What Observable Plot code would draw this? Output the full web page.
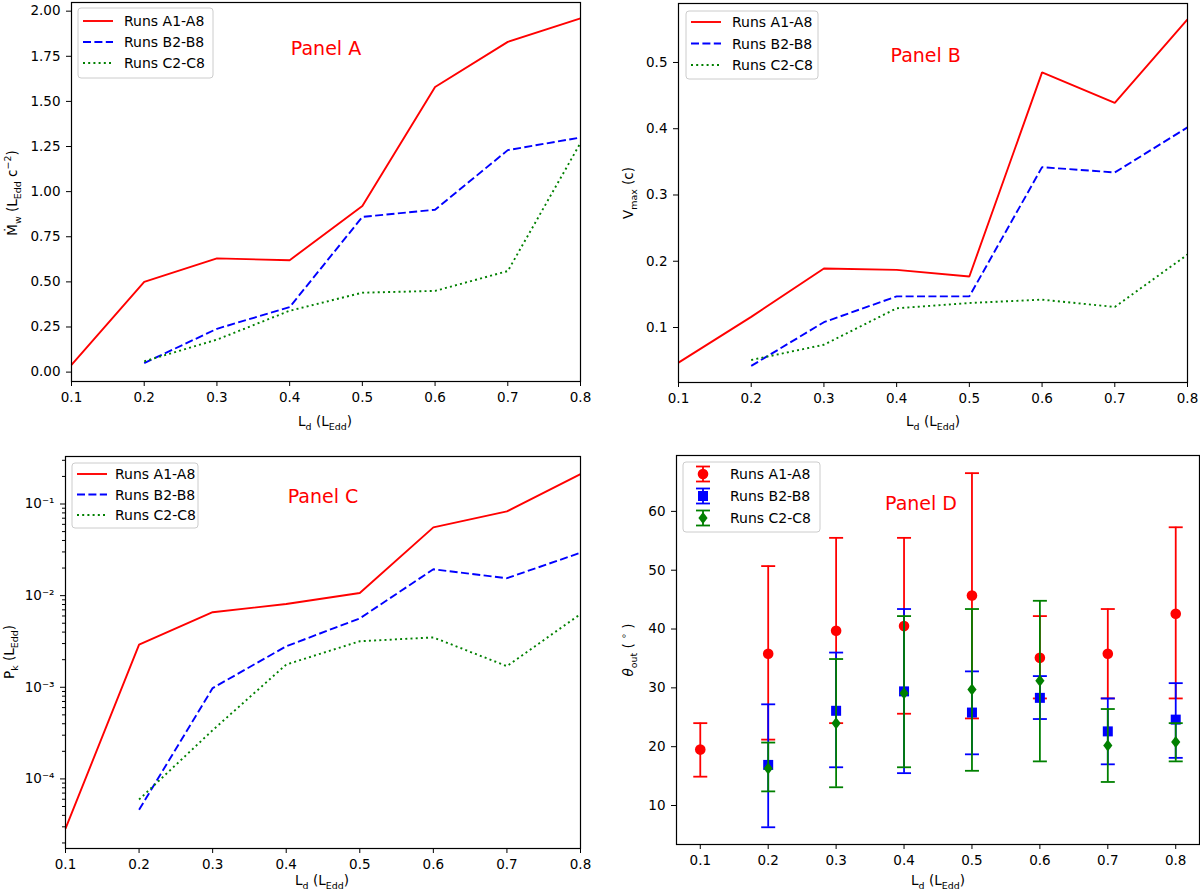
<!DOCTYPE html>
<html>
<head>
<meta charset="utf-8">
<script src="https://cdn.jsdelivr.net/npm/d3@7"></script>
<script src="https://cdn.jsdelivr.net/npm/@observablehq/plot@0.6"></script>
<style>
  body { margin: 0; background: #fff; }
  #fig { position: relative; width: 1200px; height: 891px; overflow: hidden; background: #fff; font-family: "DejaVu Sans", sans-serif; }
  .panel { position: absolute; }
  .panel svg { overflow: visible; }
</style>
</head>
<body>
<div id="fig">
  <div class="panel" id="pA" style="left:0;top:0"></div>
  <div class="panel" id="pB" style="left:600px;top:0"></div>
  <div class="panel" id="pC" style="left:0;top:440px"></div>
  <div class="panel" id="pD" style="left:600px;top:440px"></div>
</div>
<script>
// ---------------- data ----------------
const Ld = [0.1, 0.2, 0.3, 0.4, 0.5, 0.6, 0.7, 0.8];
const seriesNames = ["Runs A1-A8", "Runs B2-B8", "Runs C2-C8"];

// Panel A: mass outflow rate (L_Edd c^-2)
const mdotA = [0.04, 0.50, 0.63, 0.62, 0.92, 1.58, 1.83, 1.96];
const mdotB = [null, 0.05, 0.24, 0.36, 0.86, 0.90, 1.23, 1.30];
const mdotC = [null, 0.06, 0.18, 0.34, 0.44, 0.45, 0.56, 1.27];

// Panel B: maximum velocity (c)
const vmaxA = [0.047, 0.116, 0.189, 0.187, 0.177, 0.485, 0.439, 0.565];
const vmaxB = [null, 0.042, 0.108, 0.147, 0.147, 0.342, 0.334, 0.402];
const vmaxC = [null, 0.051, 0.074, 0.129, 0.137, 0.142, 0.131, 0.210];

// Panel C: kinetic power (L_Edd)
const pkA = [2.86e-5, 2.92e-3, 6.6e-3, 8.1e-3, 1.07e-2, 5.56e-2, 8.3e-2, 0.212];
const pkB = [null, 4.6e-5, 9.8e-4, 2.8e-3, 5.65e-3, 1.94e-2, 1.55e-2, 2.94e-2];
const pkC = [null, 5.96e-5, 3.4e-4, 1.77e-3, 3.18e-3, 3.5e-3, 1.7e-3, 6.3e-3];

// Panel D: outflow angle (deg) with error ranges
const thetaA   = [19.5, 35.8, 39.7, 40.5, 45.7, 35.1, 35.8, 42.6];
const thetaAlo = [14.9, 21.2, 24.0, 25.6, 24.8, 28.2, 28.2, 28.2];
const thetaAhi = [24.0, 50.7, 55.5, 55.5, 66.5, 42.2, 43.4, 57.3];
const thetaB   = [null, 16.9, 26.1, 29.4, 25.8, 28.3, 22.6, 24.6];
const thetaBlo = [null, 6.3, 16.5, 15.5, 18.7, 24.7, 17.0, 18.1];
const thetaBhi = [null, 27.2, 36.0, 43.4, 32.8, 32.0, 28.2, 30.8];
const thetaC   = [null, 16.3, 24.0, 29.1, 29.7, 31.2, 20.2, 20.8];
const thetaClo = [null, 12.4, 13.1, 16.5, 15.9, 17.5, 14.0, 17.5];
const thetaChi = [null, 20.7, 34.9, 42.2, 43.4, 44.8, 26.4, 24.0];

// tick labels
const xTicks = Ld;
const yTicksA = [0, 0.25, 0.5, 0.75, 1.0, 1.25, 1.5, 1.75, 2.0];
const yTicksB = [0.1, 0.2, 0.3, 0.4, 0.5];
const yTicksC = [1e-4, 1e-3, 1e-2, 1e-1];
const yTicksD = [10, 20, 30, 40, 50, 60];

// ---------------- helpers ----------------
const FONT = "DejaVu Sans";
const FS = 13.5;
const colors = ["#ff0000", "#0000ff", "#008000"];
const dashes = [null, "8,3.4", "2,3.2"];

function rows(ys) {
  return Ld.map((x, i) => ({x, y: ys[i]})).filter(d => d.y != null);
}
function errRows(ys, lo, hi) {
  return Ld.map((x, i) => ({x, y: ys[i], lo: lo[i], hi: hi[i]})).filter(d => d.y != null);
}
function richText(sel, parts, fs) {
  let shift = 0;
  parts.forEach(p => {
    const target = p.sub ? fs * 0.28 : p.sup ? -fs * 0.42 : 0;
    const t = sel.append("tspan")
      .attr("dy", (target - shift).toFixed(2))
      .attr("font-size", (p.sub || p.sup) ? fs * 0.7 : fs)
      .text(p.t);
    if (p.italic) t.attr("font-style", "italic");
    shift = target;
  });
}
function addLabel(svg, x, y, rotate, parts) {
  const t = d3.select(svg).append("text")
    .attr("font-family", FONT).attr("font-size", FS).attr("fill", "#000")
    .attr("text-anchor", "middle")
    .attr("transform", `translate(${x},${y})` + (rotate ? " rotate(-90)" : ""));
  richText(t, parts, FS);
}
const xLabelParts = [{t: "L"}, {t: "d", sub: true}, {t: " (L"}, {t: "Edd", sub: true}, {t: ")"}];

const diamondPath = "M0,-6L4.6,0L0,6L-4.6,0Z";

function addLegend(svg, box, kind) {
  const g = d3.select(svg).append("g").attr("font-family", FONT).attr("font-size", 14).attr("text-anchor", "start");
  g.append("rect").attr("x", box.x).attr("y", box.y).attr("width", box.w).attr("height", box.h)
    .attr("rx", 3).attr("fill", "white").attr("fill-opacity", 0.8).attr("stroke", "#cccccc");
  seriesNames.forEach((name, i) => {
    const cy = box.y + box.off + i * box.step;
    if (kind === "line") {
      const l = g.append("line").attr("x1", box.x + 5).attr("x2", box.x + 35).attr("y1", cy).attr("y2", cy)
        .attr("stroke", colors[i]).attr("stroke-width", 1.9);
      if (dashes[i]) l.attr("stroke-dasharray", dashes[i]);
    } else {
      const mx = box.x + 20;
      g.append("line").attr("x1", mx).attr("x2", mx).attr("y1", cy - 7.5).attr("y2", cy + 7.5).attr("stroke", colors[i]).attr("stroke-width", 1.8);
      g.append("line").attr("x1", mx - 7).attr("x2", mx + 7).attr("y1", cy - 7.5).attr("y2", cy - 7.5).attr("stroke", colors[i]).attr("stroke-width", 1.8);
      g.append("line").attr("x1", mx - 7).attr("x2", mx + 7).attr("y1", cy + 7.5).attr("y2", cy + 7.5).attr("stroke", colors[i]).attr("stroke-width", 1.8);
      let d;
      if (i === 0) d = d3.symbol(d3.symbolCircle, Math.PI * 5.3 * 5.3)();
      else if (i === 1) d = d3.symbol(d3.symbolSquare, 100)();
      else d = diamondPath;
      g.append("path").attr("transform", `translate(${mx},${cy})`).attr("d", d).attr("fill", colors[i]);
    }
    g.append("text").attr("x", box.x + box.tx).attr("y", cy + 5).attr("fill", "#000").text(name);
  });
}

function lineMarks(arrs) {
  return arrs.map((a, i) => Plot.line(rows(a), {
    x: "x", y: "y", stroke: colors[i], strokeWidth: 1.9,
    strokeDasharray: dashes[i] || undefined, strokeLinecap: "butt", strokeLinejoin: "miter"
  }));
}

const baseStyle = {fontFamily: FONT, fontSize: FS + "px", color: "#000", background: "transparent"};
const xAxisOpts = {ticks: xTicks, tickFormat: d3.format(".1f"), tickSize: 5, tickPadding: 6, label: null};

// ---------------- Panel A ----------------
{
  const svg = Plot.plot({
    width: 600, height: 440, marginLeft: 71, marginRight: 20, marginTop: 2, marginBottom: 59,
    style: baseStyle,
    x: {domain: [0.1, 0.8], ...xAxisOpts},
    y: {domain: [-0.052, 2.048], ticks: yTicksA, tickFormat: d3.format(".2f"), tickSize: 5, tickPadding: 6, label: null},
    marks: [
      ...lineMarks([mdotA, mdotB, mdotC]),
      Plot.text(["Panel A"], {x: 0.45, y: 1.79, text: d => d, fill: "#ff0000", fontSize: 19}),
      Plot.frame({stroke: "#000", strokeWidth: 1.2})
    ]
  });
  document.getElementById("pA").appendChild(svg);
  addLabel(svg, 325, 426, false, xLabelParts);
  addLabel(svg, 17, 193, true, [{t: "Ṁ"}, {t: "w", sub: true}, {t: " (L"}, {t: "Edd", sub: true}, {t: " c"}, {t: "−2", sup: true}, {t: ")"}]);
  addLegend(svg, {x: 78, y: 8, w: 135, h: 70, off: 13, step: 21, tx: 46}, "line");
}

// ---------------- Panel B ----------------
{
  const svg = Plot.plot({
    width: 600, height: 440, marginLeft: 78, marginRight: 13, marginTop: 3, marginBottom: 58,
    style: baseStyle,
    x: {domain: [0.1, 0.8], ...xAxisOpts},
    y: {domain: [0.017, 0.589], ticks: yTicksB, tickFormat: d3.format(".1f"), tickSize: 5, tickPadding: 6, label: null},
    marks: [
      ...lineMarks([vmaxA, vmaxB, vmaxC]),
      Plot.text(["Panel B"], {x: 0.44, y: 0.51, text: d => d, fill: "#ff0000", fontSize: 19}),
      Plot.frame({stroke: "#000", strokeWidth: 1.2})
    ]
  });
  document.getElementById("pB").appendChild(svg);
  addLabel(svg, 333, 426, false, xLabelParts);
  addLabel(svg, 33, 193, true, [{t: "V"}, {t: "max", sub: true}, {t: " (c)"}]);
  addLegend(svg, {x: 86, y: 11, w: 132, h: 68, off: 11, step: 21.5, tx: 46}, "line");
}

// ---------------- Panel C ----------------
{
  const sup = {"-": "⁻", "0": "⁰", "1": "¹", "2": "²", "3": "³", "4": "⁴", "5": "⁵", "6": "⁶", "7": "⁷", "8": "⁸", "9": "⁹"};
  const fmtPow = d => "10" + String(Math.round(Math.log10(d))).split("").map(c => sup[c]).join("");
  const minorC = [];
  for (let e = -5; e <= -1; e++) for (let m = 2; m <= 9; m++) {
    const v = m * Math.pow(10, e);
    if (v >= 1.74e-5 && v <= 0.33) minorC.push(v);
  }
  const svg = Plot.plot({
    width: 600, height: 451, marginLeft: 65, marginRight: 20, marginTop: 16, marginBottom: 43,
    style: baseStyle,
    x: {domain: [0.1, 0.8], ...xAxisOpts},
    y: {type: "log", domain: [1.74e-5, 0.33]},
    marks: [
      Plot.axisY({ticks: yTicksC, tickFormat: fmtPow, tickSize: 5, tickPadding: 6, label: null}),
      Plot.axisY({ticks: minorC, tickFormat: () => "", tickSize: 3, label: null}),
      ...lineMarks([pkA, pkB, pkC]),
      Plot.text(["Panel C"], {x: 0.45, y: 0.12, text: d => d, fill: "#ff0000", fontSize: 19}),
      Plot.frame({stroke: "#000", strokeWidth: 1.2})
    ]
  });
  document.getElementById("pC").appendChild(svg);
  addLabel(svg, 322, 445, false, xLabelParts);
  addLabel(svg, 14, 212, true, [{t: "P"}, {t: "k", sub: true}, {t: " (L"}, {t: "Edd", sub: true}, {t: ")"}]);
  addLegend(svg, {x: 72, y: 23, w: 126, h: 65, off: 11, step: 20.5, tx: 43}, "line");
}

// ---------------- Panel D ----------------
{
  const capSymbol = {draw(ctx) { ctx.moveTo(-7, 0); ctx.lineTo(7, 0); }};
  const diamondSymbol = {draw(ctx) { ctx.moveTo(0, -6); ctx.lineTo(4.6, 0); ctx.lineTo(0, 6); ctx.lineTo(-4.6, 0); ctx.closePath(); }};
  const groups = [
    {data: errRows(thetaA, thetaAlo, thetaAhi), symbol: "circle", r: 5.3},
    {data: errRows(thetaB, thetaBlo, thetaBhi), symbol: "square", r: 5.64},
    {data: errRows(thetaC, thetaClo, thetaChi), symbol: diamondSymbol, r: 5}
  ];
  const marks = [];
  groups.forEach((g, i) => {
    marks.push(Plot.ruleX(g.data, {x: "x", y1: "lo", y2: "hi", stroke: colors[i], strokeWidth: 1.8}));
    marks.push(Plot.dot(g.data, {x: "x", y: "lo", symbol: capSymbol, r: 5, fill: "none", stroke: colors[i], strokeWidth: 1.8}));
    marks.push(Plot.dot(g.data, {x: "x", y: "hi", symbol: capSymbol, r: 5, fill: "none", stroke: colors[i], strokeWidth: 1.8}));
    marks.push(Plot.dot(g.data, {x: "x", y: "y", symbol: g.symbol, r: g.r, fill: colors[i], stroke: "none"}));
  });
  const svg = Plot.plot({
    width: 600, height: 451, marginLeft: 76, marginRight: 1, marginTop: 15, marginBottom: 47,
    style: baseStyle,
    x: {domain: [0.065, 0.835], ...xAxisOpts},
    y: {domain: [3.37, 69.5], ticks: yTicksD, tickFormat: d3.format("d"), tickSize: 5, tickPadding: 6, label: null},
    marks: [
      ...marks,
      Plot.text(["Panel D"], {x: 0.425, y: 61.3, text: d => d, fill: "#ff0000", fontSize: 19}),
      Plot.frame({stroke: "#000", strokeWidth: 1.2})
    ]
  });
  document.getElementById("pD").appendChild(svg);
  addLabel(svg, 338, 445, false, xLabelParts);
  addLabel(svg, 33, 210, true, [{t: "θ", italic: true}, {t: "out", sub: true}, {t: " ( "}, {t: "∘", sup: true}, {t: " )"}]);
  addLegend(svg, {x: 83, y: 22, w: 137, h: 70, off: 12, step: 22, tx: 47}, "err");
}
</script>
</body>
</html>
